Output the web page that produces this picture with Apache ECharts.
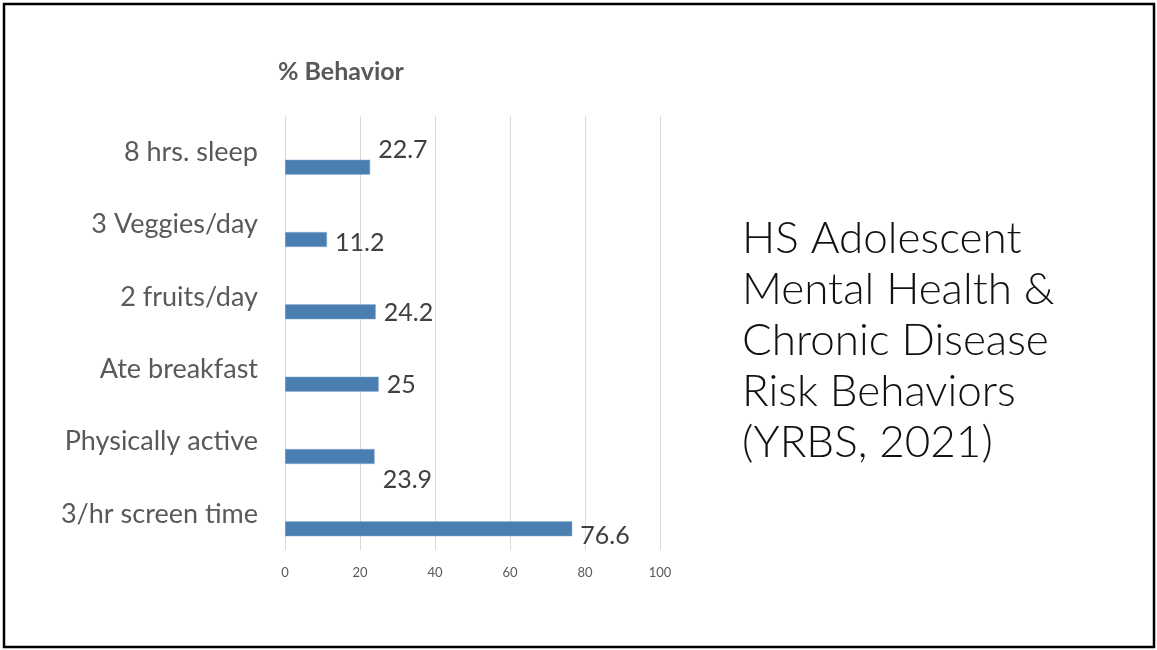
<!DOCTYPE html>
<html>
<head>
<meta charset="utf-8">
<script src="https://cdn.jsdelivr.net/npm/echarts@6/dist/echarts.min.js"></script>
<style>
  html, body { margin: 0; padding: 0; background: #fff; }
  #chart { width: 1157px; height: 650px; }
</style>
</head>
<body>
<div id="chart"></div>
<script>
// data, top to bottom
var categories = ['8 hrs. sleep', '3 Veggies/day', '2 fruits/day', 'Ate breakfast', 'Physically active', '3/hr screen time'];
var behaviorPct = [22.7, 11.2, 24.2, 25, 23.9, 76.6];
var xTicks = [0, 20, 40, 60, 80, 100];
var titleLines = ['HS Adolescent', 'Mental Health &', 'Chronic Disease', 'Risk Behaviors', '(YRBS, 2021)'];

// label nudges (Excel placed them a bit oddly)
var labelDy = [-17, 3, 1, 1, 23, 7];

var chart = echarts.init(document.getElementById('chart'));

var barData = behaviorPct.map(function (v, i) {
    return {
        value: v,
        label: { offset: [0, labelDy[i]] }
    };
});

var option = {
    animation: false,
    grid: { left: 285, right: 497, top: 116, bottom: 100 },
    xAxis: {
        type: 'value',
        min: xTicks[0],
        max: xTicks[xTicks.length - 1],
        interval: 20,
        axisLine: { show: false },
        axisTick: { show: false },
        axisLabel: { color: '#595959', fontSize: 13, fontFamily: 'Lato', margin: 16 },
        splitLine: { lineStyle: { color: '#d9d9d9', width: 1 } }
    },
    yAxis: {
        type: 'category',
        inverse: true,
        data: categories,
        axisLine: { show: false },
        axisTick: { show: false },
        axisLabel: { color: '#595959', fontSize: 27, fontFamily: 'Lato', margin: 27 }
    },
    series: [{
        // empty series, keeps the real bar pushed below the band centre
        name: 'blank',
        type: 'bar',
        barWidth: 15,
        barGap: '100%',
        data: categories.map(function () { return null; })
    }, {
        name: '% Behavior',
        type: 'bar',
        barWidth: 15,
        barGap: '100%',
        itemStyle: { color: '#4a7db0', borderColor: '#8fb0d6', borderWidth: 0.5 },
        label: {
            show: true,
            position: 'right',
            distance: 8,
            color: '#404040',
            fontSize: 25,
            fontFamily: 'Lato'
        },
        data: barData
    }],
    graphic: [{
        type: 'rect',
        shape: { x: 4, y: 4, width: 1150, height: 643 },
        style: { fill: 'none', stroke: '#000', lineWidth: 2.5 },
        silent: true
    }, {
        type: 'text',
        left: 278,
        top: 59,
        style: { text: '% Behavior', fill: '#595959', font: 'bold 25px Lato' }
    }, {
        type: 'text',
        left: 742,
        top: 213,
        style: {
            text: titleLines.join('\n'),
            fill: '#111',
            font: '300 44px Lato',
            lineHeight: 51
        }
    }]
};

chart.setOption(option);
</script>
</body>
</html>
